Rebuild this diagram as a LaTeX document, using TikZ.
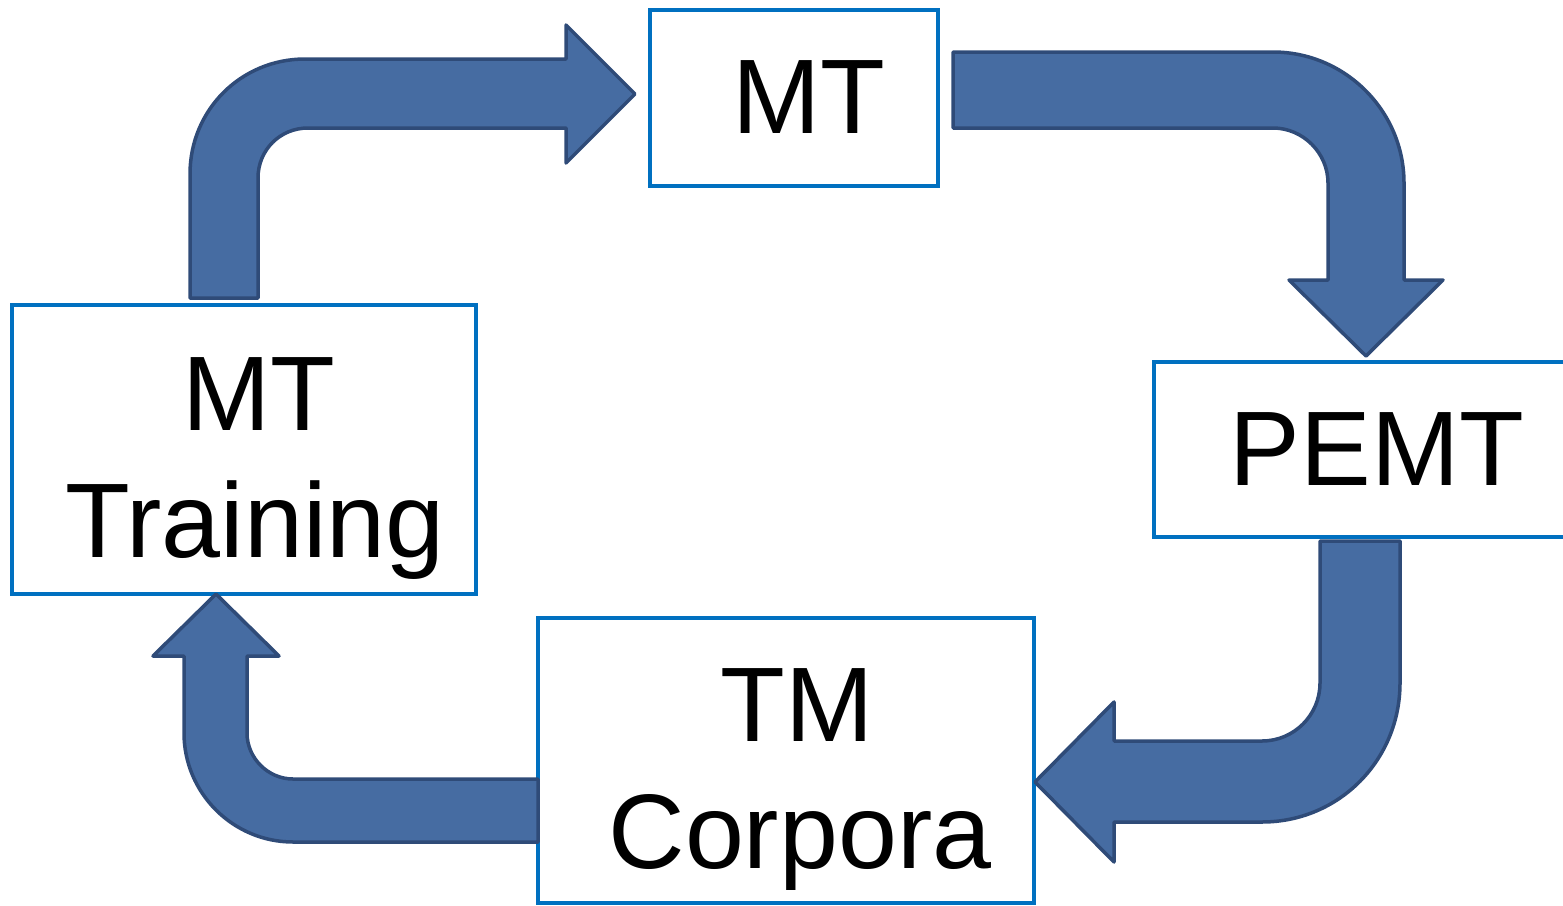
\documentclass[tikz,border=0pt]{standalone}
\usepackage{fontspec}
\setmainfont{Liberation Sans}
\definecolor{boxblue}{HTML}{0070C0}
\definecolor{arrfill}{HTML}{466CA2}
\definecolor{arrline}{HTML}{2F4B78}
\tikzset{
  boxnode/.style={draw=boxblue, line width=3.5pt, rectangle, inner sep=0pt, fill=none},
  blockarrow/.style={fill=arrfill, draw=arrline, line width=3.5pt, line join=round},
  lbl/.style={anchor=base, inner sep=0pt, font=\fontsize{106}{127}\selectfont}
}
\begin{document}
\begin{tikzpicture}[x=1pt,y=-1pt]
\useasboundingbox (0,0) rectangle (1563,905);
% boxes
\node[boxnode, minimum width=288pt, minimum height=176pt] (mt) at (794,98) {};
\node[boxnode, minimum width=464pt, minimum height=289pt] (train) at (244,449.5) {};
\node[boxnode, minimum width=414pt, minimum height=175pt] (pemt) at (1361,449.5) {};
\node[boxnode, minimum width=496pt, minimum height=285pt] (tm) at (786,760.5) {};
% labels
\node[lbl] (tmt) at (809,133) {MT};
\node[lbl] (ttrain1) at (259,430) {MT};
\node[lbl] (ttrain2) at (255,557) {Training};
\node[lbl] (tpemt) at (1377,485) {PEMT};
\node[lbl] (ttm1) at (797,741) {TM};
\node[lbl] (ttm2) at (800,868) {Corpora};
% arrow 1: MT Training -> MT
\draw[blockarrow] (190,298) -- (190,174) .. controls (190,110) and (241,59) .. (305,59)
  -- (566,59) -- (566,25) -- (635,94) -- (566,163) -- (566,128) -- (308,128)
  .. controls (280,128) and (258,150) .. (258,178) -- (258,298) -- cycle;
% arrow 2: MT -> PEMT
\draw[blockarrow] (953,52) -- (1273,52) .. controls (1345,52) and (1404,111) .. (1404,183)
  -- (1404,280) -- (1443,280) -- (1366,356) -- (1289,280) -- (1328,280) -- (1328,183)
  .. controls (1328,153) and (1303,128) .. (1273,128) -- (953,128) -- cycle;
% arrow 3: PEMT -> TM Corpora
\draw[blockarrow] (1320,541) -- (1320,683) .. controls (1320,715) and (1294,741) .. (1262,741)
  -- (1114,741) -- (1114,702) -- (1035,782) -- (1114,862) -- (1114,822) -- (1262,822)
  .. controls (1339,822) and (1400,760) .. (1400,683) -- (1400,541) -- cycle;
% arrow 4: TM Corpora -> MT Training
\draw[blockarrow] (538,779) -- (293,779) .. controls (268,779) and (247,758) .. (247,733)
  -- (247,656) -- (279,656) -- (216,594) -- (153,656) -- (184,656) -- (184,733)
  .. controls (184,793) and (233,842) .. (293,842) -- (538,842) -- cycle;
\end{tikzpicture}
\end{document}
